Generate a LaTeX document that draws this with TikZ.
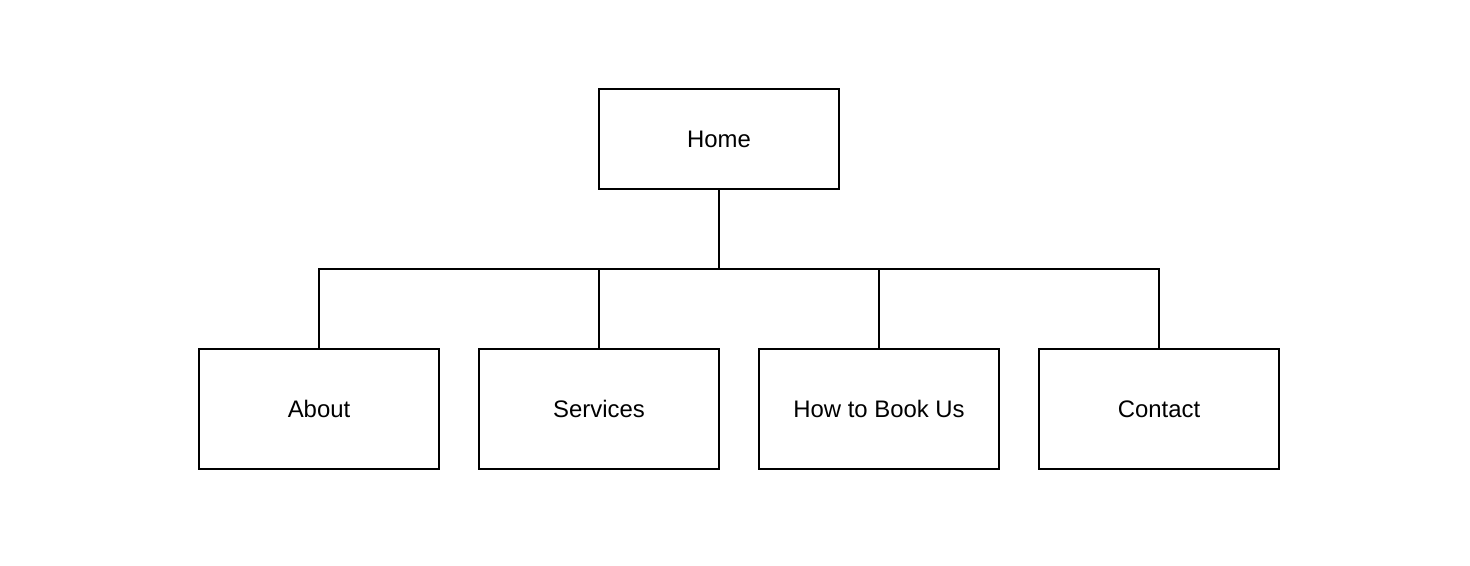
\documentclass[tikz,border=0pt]{standalone}
\usepackage{fontspec}
\setmainfont{Liberation Sans}
\usetikzlibrary{positioning}
\tikzset{
    pagebox/.style={draw, line width=1.1pt, minimum width=4.8cm, inner sep=0pt, font=\fontsize{13.6}{16}\selectfont},
    link/.style={line width=1.1pt}
}
\begin{document}
\begin{tikzpicture}
            \useasboundingbox (0, 0) rectangle (29.4, -11.32);
            %pagine
            \node[pagebox, minimum height=2cm] (home) at (14.38, -2.78) {Home};
            \node[pagebox, minimum height=2.4cm] (about) at (6.38, -8.18) {About};
            \node[pagebox, minimum height=2.4cm] (services) at (11.98, -8.18) {Services};
            \node[pagebox, minimum height=2.4cm] (book) at (17.58, -8.18) {How to Book Us};
            \node[pagebox, minimum height=2.4cm] (contact) at (23.18, -8.18) {Contact};
            %collegamenti
            \coordinate (bus) at (14.38, -5.38);
            \draw[link] (home.south) -- (bus);
            \draw[link] (about.north) |- (bus);
            \draw[link] (services.north) |- (bus);
            \draw[link] (book.north) |- (bus);
            \draw[link] (contact.north) |- (bus);
\end{tikzpicture}
\end{document}
